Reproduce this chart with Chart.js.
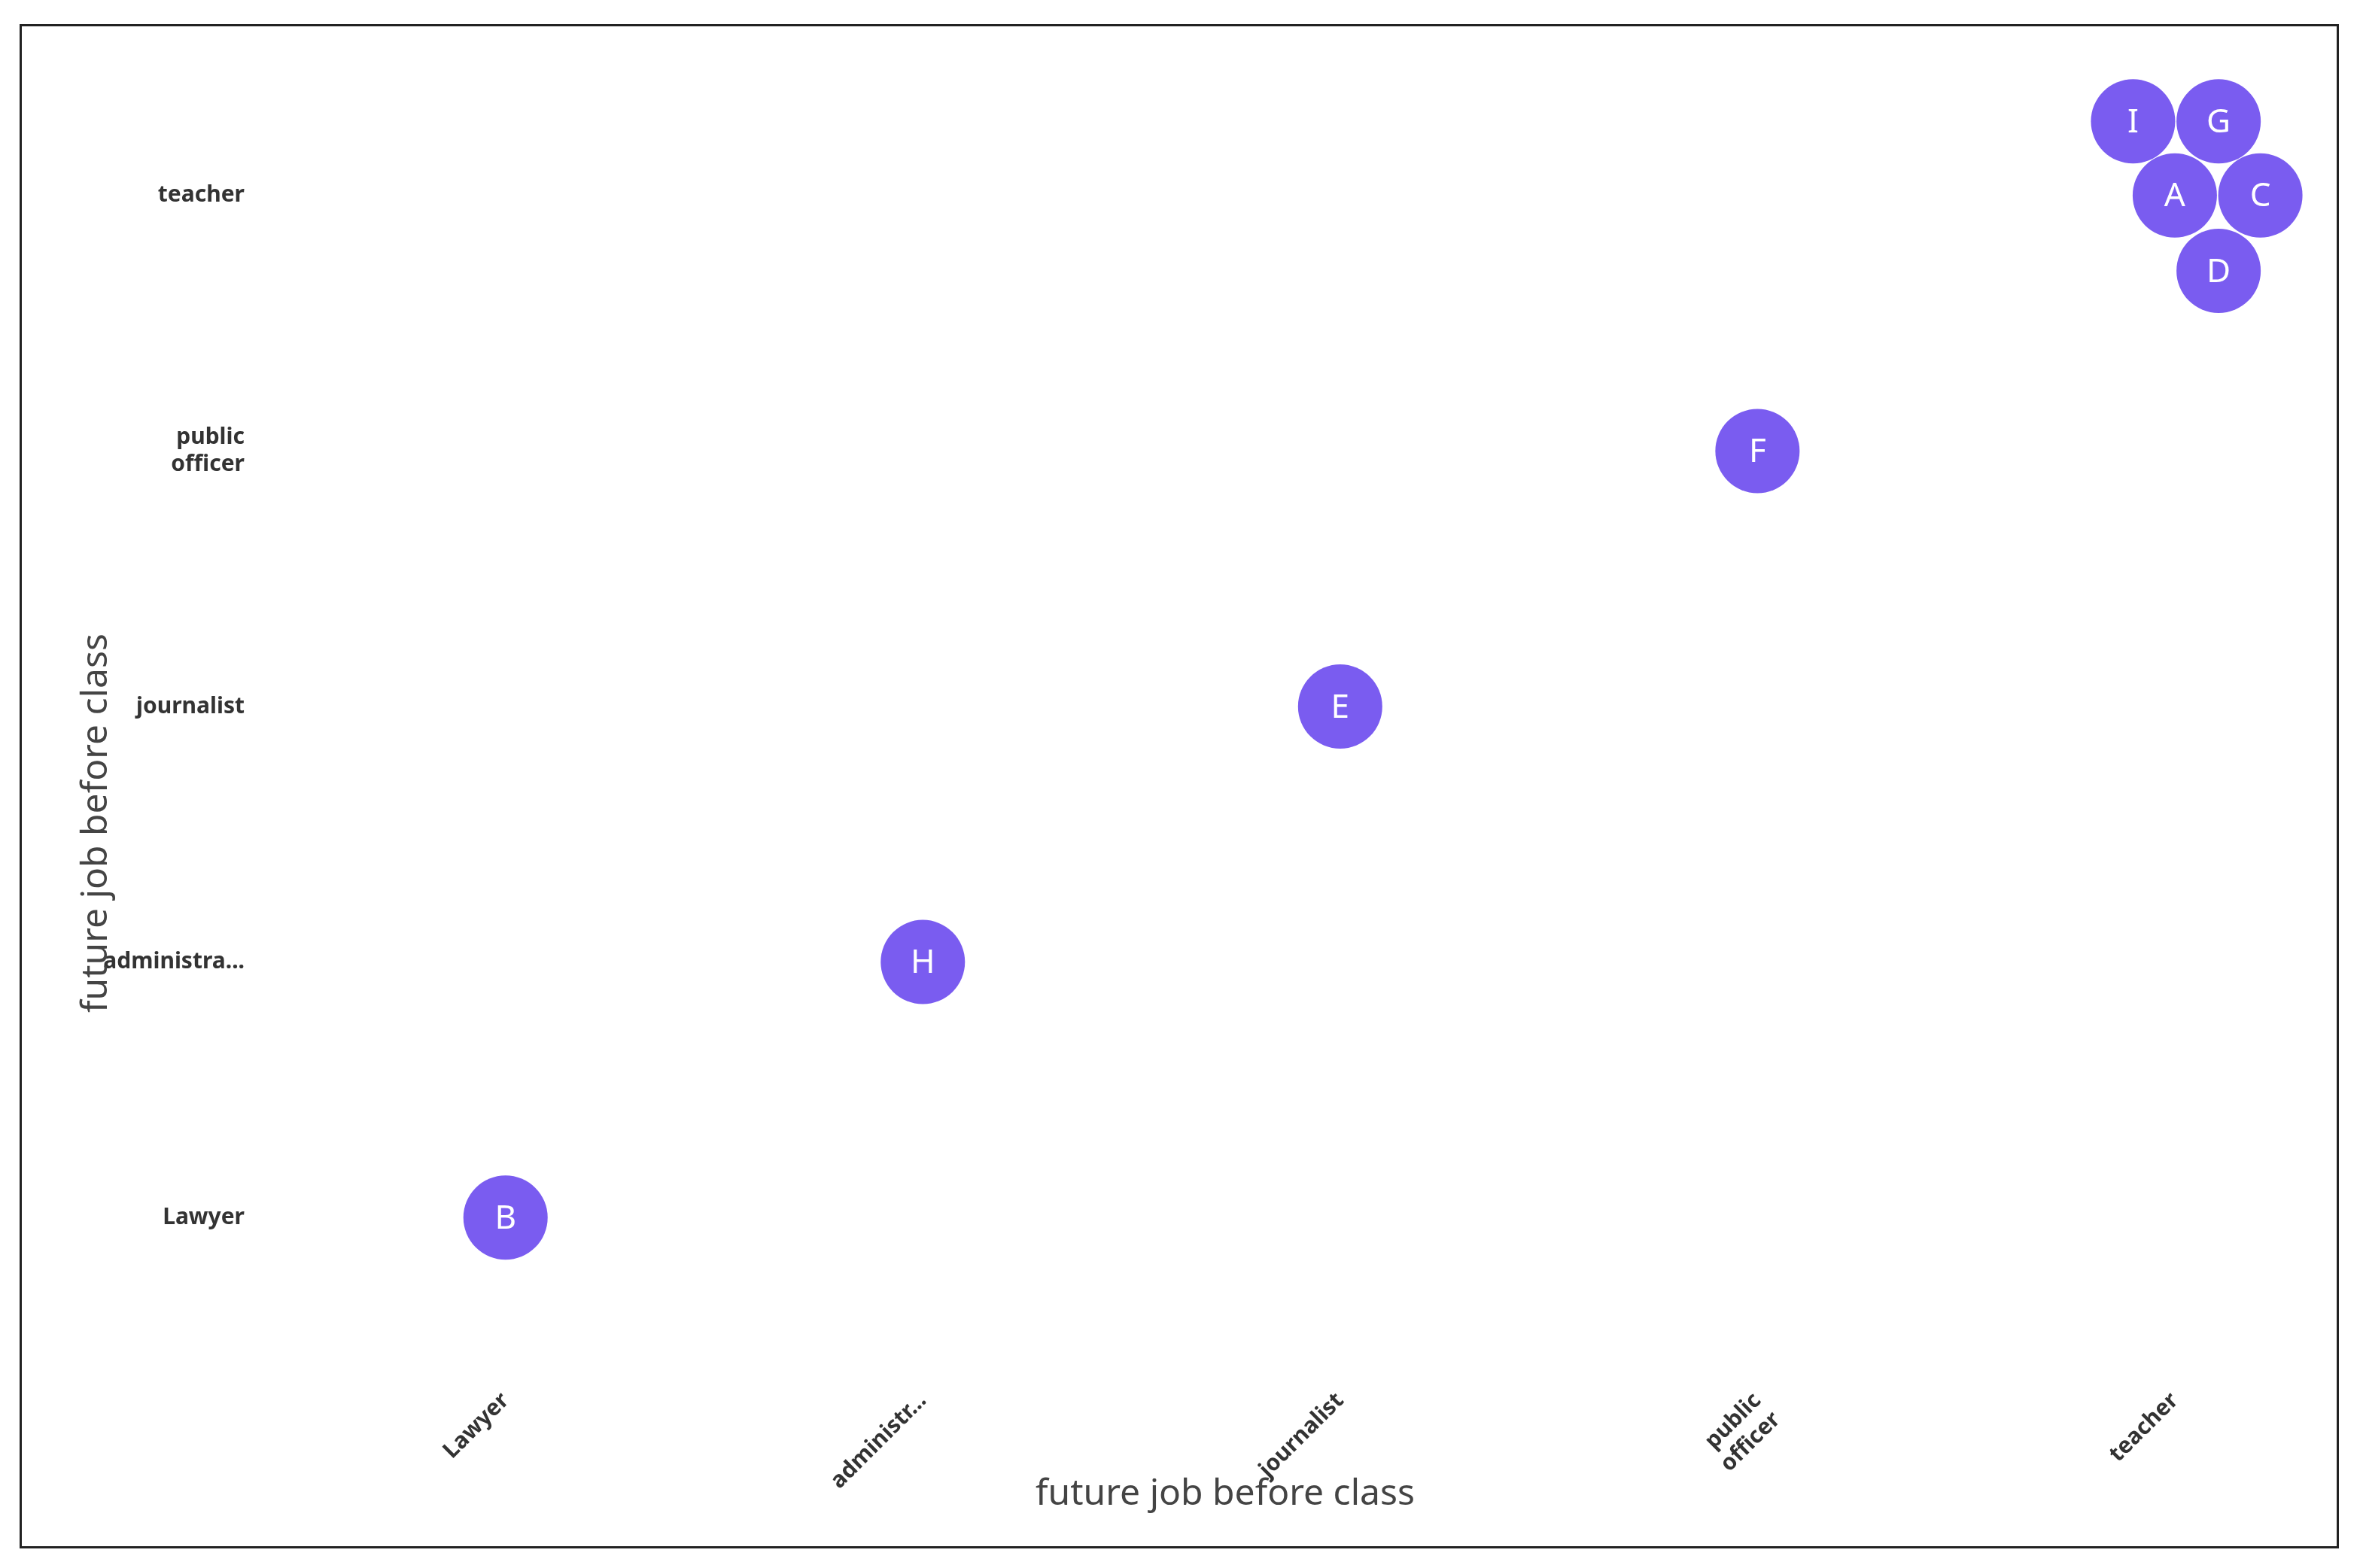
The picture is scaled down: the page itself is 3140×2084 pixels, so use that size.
<!DOCTYPE html>
<html>
<head>
<meta charset="utf-8">
<script src="https://cdn.jsdelivr.net/npm/chart.js@4"></script>
<style>
  html, body { margin: 0; padding: 0; background: #fff; }
  #wrap { position: relative; width: 3140px; height: 2084px; }
  #frame { position: absolute; left: 26px; top: 32px; width: 3076px; height: 2020px; border: 3px solid #222; pointer-events: none; }
</style>
</head>
<body>
<div id="wrap">
  <canvas id="chart" width="3140" height="2084"></canvas>
  <div id="frame"></div>
</div>
<script>
const xLabels = ["Lawyer", "administr...", "journalist", ["public", "officer"], "teacher"];
const yLabels = ["Lawyer", "administra...", "journalist", ["public", "officer"], "teacher"];
const names = ["B", "H", "E", "F", "I", "G", "A", "C", "D"];
const xCat = [0, 1, 2, 3, 4, 4, 4, 4, 4];
const yCat = [0, 1, 2, 3, 4, 4, 4, 4, 4];
// swarm offsets (category units) so overlapping bubbles sit side by side
const xJitter = [0, 0, 0, 0, -0.10, 0.105, 0, 0.205, 0.105];
const yJitter = [0, 0, 0, 0, 0.29, 0.29, 0, 0, -0.295];

const points = names.map((n, i) => ({ x: xCat[i] + xJitter[i], y: yCat[i] + yJitter[i], name: n }));

const tickFont = { family: "'Noto Sans', sans-serif", size: 30, weight: "bold" };

// letters inside the bubbles and the axis titles
const labelPlugin = {
  id: "labels",
  afterDatasetsDraw(chart) {
    const ctx = chart.ctx;
    const meta = chart.getDatasetMeta(0);
    ctx.save();
    ctx.fillStyle = "#fff";
    ctx.font = "44px 'Noto Sans', sans-serif";
    ctx.textAlign = "center";
    ctx.textBaseline = "middle";
    meta.data.forEach((el, i) => ctx.fillText(points[i].name, el.x, el.y + 2));

    ctx.fillStyle = "#444";
    ctx.font = "48px 'Noto Sans', sans-serif";
    ctx.fillText("future job before class", 1628, 1986);
    ctx.translate(128, 1094);
    ctx.rotate(-Math.PI / 2);
    ctx.fillText("future job before class", 0, 0);
    ctx.restore();
  }
};

new Chart(document.getElementById("chart"), {
  type: "scatter",
  data: {
    datasets: [{
      data: points,
      backgroundColor: "#7a5cf0",
      borderWidth: 0,
      pointRadius: 56,
      pointHoverRadius: 56
    }]
  },
  options: {
    responsive: false,
    animation: false,
    layout: { padding: { left: 26, top: 73, right: 54, bottom: 30 } },
    plugins: { legend: { display: false }, tooltip: { enabled: false } },
    scales: {
      x: {
        type: "linear",
        min: -0.6,
        max: 4.35,
        grid: { display: false },
        border: { display: false },
        afterBuildTicks: s => { s.ticks = xLabels.map((_, i) => ({ value: i })); },
        afterFit: s => { s.height = 232; },
        ticks: {
          autoSkip: false,
          minRotation: 45,
          maxRotation: 45,
          padding: 14,
          color: "#333",
          font: tickFont,
          callback: v => xLabels[v]
        }
      },
      y: {
        type: "linear",
        min: -0.6,
        max: 4.55,
        grid: { display: false },
        border: { display: false },
        afterBuildTicks: s => { s.ticks = yLabels.map((_, i) => ({ value: i })); },
        afterFit: s => { s.width = 313; },
        ticks: {
          autoSkip: false,
          padding: 6,
          color: "#333",
          font: tickFont,
          callback: v => yLabels[v]
        }
      }
    }
  },
  plugins: [labelPlugin]
});
</script>
</body>
</html>
